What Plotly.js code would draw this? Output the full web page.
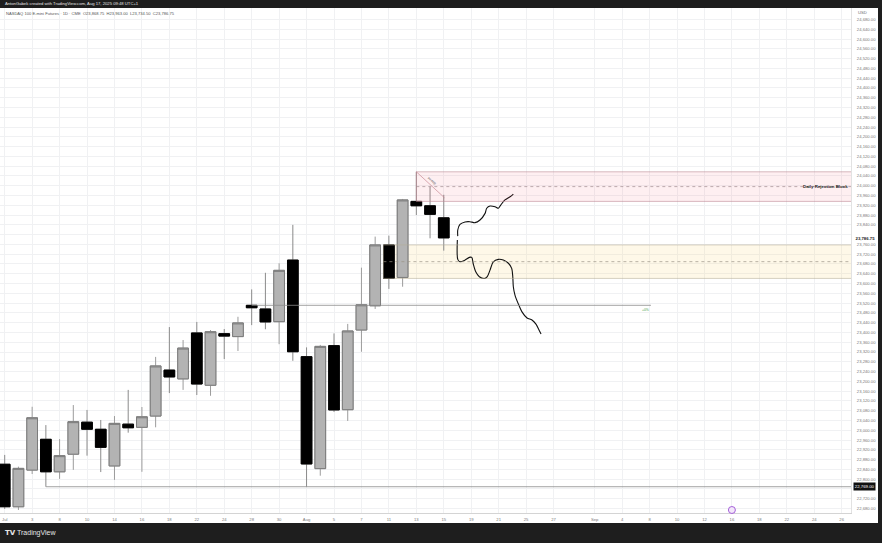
<!DOCTYPE html>
<html>
<head>
<meta charset="utf-8">
<script src="https://cdn.plot.ly/plotly-3.0.1.min.js"></script>
<style>
  html, body { margin: 0; padding: 0; background: #1e1e1e; overflow: hidden; }
  #chart { width: 882px; height: 543px; }
</style>
</head>
<body>
<div id="chart"></div>
<script>
// CME session calendar, Jul 1 – Sep 29 2025 (holidays skipped)
const calendar = [
  '2025-07-01','2025-07-02','2025-07-03','2025-07-07','2025-07-08','2025-07-09','2025-07-10','2025-07-11',
  '2025-07-14','2025-07-15','2025-07-16','2025-07-17','2025-07-18','2025-07-21','2025-07-22','2025-07-23',
  '2025-07-24','2025-07-25','2025-07-28','2025-07-29','2025-07-30','2025-07-31',
  '2025-08-01','2025-08-04','2025-08-05','2025-08-06','2025-08-07','2025-08-08','2025-08-11','2025-08-12',
  '2025-08-13','2025-08-14','2025-08-15','2025-08-18','2025-08-19','2025-08-20','2025-08-21','2025-08-22',
  '2025-08-25','2025-08-26','2025-08-27','2025-08-28','2025-08-29',
  '2025-09-02','2025-09-03','2025-09-04','2025-09-05','2025-09-08','2025-09-09','2025-09-10','2025-09-11',
  '2025-09-12','2025-09-15','2025-09-16','2025-09-17','2025-09-18','2025-09-19','2025-09-22','2025-09-23',
  '2025-09-24','2025-09-25','2025-09-26','2025-09-29'
];

// Daily bars, NASDAQ 100 E-mini Futures
const sessionDates = calendar.slice(0, 33);
const opens  = [22861, 22687, 22837, 22963, 22830, 22902, 23033, 23004, 22854, 23025, 23012, 23058, 23246, 23210, 23398, 23184, 23395, 23383, 23511, 23496, 23444, 23696, 23301, 22843, 23346, 23084, 23410, 23509, 23758, 23625, 23936, 23918, 23868.75];
const highs  = [22899, 22851, 23096, 23021, 22964, 23103, 23083, 23042, 23058, 23165, 23095, 23300, 23422, 23369, 23443, 23410, 23414, 23464, 23576, 23644, 23683, 23840, 23339, 23349, 23396, 23435, 23665, 23792, 23796, 23946, 24057, 23996, 23963];
const lows   = [22678, 22674, 22821, 22769, 22801, 22838, 22896, 22829, 22797, 22990, 22830, 23012, 23152, 23165, 23144, 23141, 23291, 23324, 23430, 23413, 23352, 23284, 22769, 22814, 23075, 23038, 23321, 23496, 23578, 23587, 23880, 23785, 23734.5];
const closes = [22687, 22844, 23051, 22830, 22896, 23035, 23004, 22930, 23028, 23010, 23055, 23263, 23218, 23336, 23189, 23403, 23385, 23439, 23501, 23443, 23654, 23321, 22862, 23343, 23083, 23406, 23513, 23758, 23621, 23942, 23918, 23883, 23786.75];

// Time-scale labels
const tickDates  = ['2025-07-01','2025-07-03','2025-07-08','2025-07-10','2025-07-14','2025-07-16','2025-07-18','2025-07-22','2025-07-24','2025-07-28','2025-07-30',
                    '2025-08-01','2025-08-05','2025-08-07','2025-08-11','2025-08-13','2025-08-15','2025-08-19','2025-08-21','2025-08-25','2025-08-27',
                    '2025-09-02','2025-09-04','2025-09-08','2025-09-10','2025-09-12','2025-09-16','2025-09-18','2025-09-22','2025-09-24','2025-09-26'];
const tickLabels = ['Jul','3','8','10','14','16','18','22','24','28','30',
                    'Aug','5','7','11','13','15','19','21','25','27',
                    'Sep','4','8','10','12','16','18','22','24','26'];

// Freehand projection paths (session index, price)
const upPathX   = [33.02, 33.02, 33.18, 33.55, 33.91, 34.28, 34.64, 35.01, 35.13, 35.37, 35.74, 35.98, 36.15, 36.46, 36.83, 37.07];
const upPathY   = [23794, 23819, 23842, 23852, 23853, 23849, 23860, 23887, 23908, 23917, 23914, 23908, 23921, 23942, 23955, 23966];
const downPathX = [32.99, 33.02, 33.18, 33.55, 33.86, 34.04, 34.15, 34.33, 34.59, 35.01, 35.17, 35.37, 35.61, 35.98, 36.34, 36.71, 36.95, 37.03, 37.07, 37.19, 37.41, 37.70, 38.07, 38.43, 38.72, 38.94, 39.09];
const downPathY = [23778, 23699, 23689, 23696, 23707, 23707, 23680, 23648, 23628, 23621, 23628, 23655, 23689, 23699, 23696, 23683, 23662, 23628, 23587, 23553, 23520, 23484, 23459, 23451, 23434, 23410, 23394];

// ---------------------------------------------------------------------------
const idx = d => calendar.indexOf(d);
const xs = sessionDates.map(idx);
const fmt = v => v.toLocaleString('en-US', {minimumFractionDigits: 2, maximumFractionDigits: 2});
const last = xs.length - 1;

const FONT = 'Liberation Sans, Arial, sans-serif';
const W = 882, H = 543;
const plotRight = 851, plotTop = 8, plotBottom = 513;
const plotW = plotRight, plotH = plotBottom - plotTop;
const py = y => (plotBottom - y) / plotH;   // page pixel row -> paper y
const px = x => x / plotW;                  // page pixel column -> paper x

const support = lows[3];

// price scale ticks every 40 points; labels hidden where a price tag covers them
const priceTicks = [];
for (let v = 22680; v <= 24680; v += 40) priceTicks.push(v);
const hiddenTicks = [23800, 22760];
const priceText = priceTicks.map(v => hiddenTicks.includes(v) ? '' : fmt(v));

const bodyHigh = opens.map((o, i) => Math.max(o, closes[i]));
const bodyLow  = opens.map((o, i) => Math.min(o, closes[i]));

const traces = [
  { // wicks
    type: 'candlestick', x: xs, open: opens, high: highs, low: lows, close: closes,
    increasing: {line: {color: '#9c9c9c', width: 1}, fillcolor: '#b3b3b3'},
    decreasing: {line: {color: '#8a8a8a', width: 1}, fillcolor: '#000000'},
    whiskerwidth: 0, hoverinfo: 'skip', showlegend: false
  },
  { // bodies
    type: 'candlestick', x: xs, open: opens, high: bodyHigh, low: bodyLow, close: closes,
    increasing: {line: {color: '#7b7b7b', width: 1}, fillcolor: '#b3b3b3'},
    decreasing: {line: {color: '#000000', width: 1}, fillcolor: '#000000'},
    whiskerwidth: 0, hoverinfo: 'skip', showlegend: false
  },
  {
    type: 'scatter', mode: 'lines', x: upPathX, y: upPathY,
    line: {color: '#111111', width: 1.1, shape: 'spline', smoothing: 0.8},
    hoverinfo: 'skip', showlegend: false
  },
  {
    type: 'scatter', mode: 'lines', x: downPathX, y: downPathY,
    line: {color: '#111111', width: 1.1, shape: 'spline', smoothing: 0.8},
    hoverinfo: 'skip', showlegend: false
  }
];

// zones
const rejTop = highs[30], rejBot = opens[30];
const rejMid = (rejTop + rejBot) / 2;
const demTop = opens[28], demBot = closes[28];
const demMid = (demTop + demBot) / 2;
const ray = opens[18];

const shapes = [
  // white chart panel
  {type: 'rect', xref: 'paper', yref: 'paper', x0: 0, x1: px(878), y0: py(523), y1: py(plotTop),
   fillcolor: '#ffffff', line: {width: 0}, layer: 'below'},
  // daily rejection block
  {type: 'rect', xref: 'x', yref: 'y', x0: 30, x1: 70, y0: rejBot, y1: rejTop,
   fillcolor: 'rgba(242,54,80,0.08)', line: {color: 'rgba(190,140,150,0.75)', width: 0.8}, layer: 'above'},
  {type: 'line', xref: 'x', yref: 'y', x0: 30, x1: 70, y0: rejMid, y1: rejMid,
   line: {color: '#a08c90', width: 0.7, dash: 'dot'}, layer: 'above'},
  {type: 'line', xref: 'x', yref: 'y', x0: 30, x1: 32.05, y0: rejTop, y1: highs[32] - 12,
   line: {color: 'rgba(200,140,150,0.9)', width: 0.8}, layer: 'above'},
  // demand zone (fill beneath the candles)
  {type: 'rect', xref: 'x', yref: 'y', x0: 27.6, x1: 70, y0: demBot, y1: demTop,
   fillcolor: 'rgba(248,210,110,0.16)', line: {width: 0}, layer: 'between'},
  {type: 'rect', xref: 'x', yref: 'y', x0: 27.6, x1: 70, y0: demBot, y1: demTop,
   fillcolor: 'rgba(0,0,0,0)', line: {color: 'rgba(180,172,150,0.7)', width: 0.8}, layer: 'above'},
  {type: 'line', xref: 'x', yref: 'y', x0: 27.6, x1: 70, y0: demMid, y1: demMid,
   line: {color: '#9a9385', width: 0.7, dash: 'dot'}, layer: 'above'},
  // horizontal levels
  {type: 'line', xref: 'x', yref: 'y', x0: 18, x1: 47.1, y0: ray, y1: ray,
   line: {color: '#8c8c8c', width: 0.8}, layer: 'above'},
  {type: 'line', xref: 'x', yref: 'y', x0: 3, x1: 70, y0: support, y1: support,
   line: {color: '#8c8c8c', width: 0.8}, layer: 'above'},
  // economic event marker
  {type: 'circle', xref: 'x', yref: 'paper', xsizemode: 'pixel', ysizemode: 'pixel',
   xanchor: idx('2025-09-16'), yanchor: 0, x0: -3.5, x1: 3.5, y0: -0.5, y1: 6.5,
   fillcolor: 'rgba(243,232,250,1)', line: {color: '#9c4fd6', width: 0.9}, layer: 'above'}
];

const annotations = [
  {xref: 'paper', yref: 'paper', x: px(3), y: py(3.6), xanchor: 'left', yanchor: 'middle', showarrow: false,
   text: 'AntonGabek created with TradingView.com, Aug 17, 2025 09:48 UTC+1',
   font: {family: FONT, size: 4.2, color: '#e4e4e4'}},
  {xref: 'paper', yref: 'paper', x: px(4), y: py(13), xanchor: 'left', yanchor: 'middle', showarrow: false,
   text: 'NASDAQ 100 E-mini Futures · 1D · CME  O' + fmt(opens[last]) + '  H' + fmt(highs[last]) +
         '  L' + fmt(lows[last]) + '  C' + fmt(closes[last]),
   font: {family: FONT, size: 4.1, color: '#555555'}},
  {xref: 'paper', yref: 'paper', x: px(856), y: py(12.5), xanchor: 'left', yanchor: 'middle', showarrow: false,
   text: 'USD', font: {family: FONT, size: 4.2, color: '#6e6e6e'}},
  {xref: 'paper', yref: 'y', x: px(854), y: closes[last], xanchor: 'left', yanchor: 'middle', showarrow: false,
   text: '<b>' + fmt(closes[last]) + '</b>', font: {family: FONT, size: 4.3, color: '#222222'},
   bgcolor: '#ffffff', borderpad: 0.5},
  {xref: 'paper', yref: 'y', x: px(853), y: support, xanchor: 'left', yanchor: 'middle', showarrow: false,
   text: fmt(support), font: {family: FONT, size: 4.3, color: '#ffffff'},
   bgcolor: '#111111', borderpad: 0.8},
  {xref: 'paper', yref: 'y', x: 1, y: rejMid, xanchor: 'right', yanchor: 'middle', showarrow: false, xshift: -1,
   text: '<b>Daily Rejection Block</b>', font: {family: FONT, size: 4.4, color: '#222222'}},
  {xref: 'x', yref: 'y', x: 31.15, y: 24020, xanchor: 'center', yanchor: 'middle', showarrow: false,
   textangle: 43, text: 'sweep', font: {family: FONT, size: 3.4, color: '#555555'}},
  {xref: 'x', yref: 'y', x: 47.1, y: ray, xanchor: 'right', yanchor: 'top', showarrow: false, yshift: -0.5,
   text: '+0%', font: {family: FONT, size: 3.4, color: '#43a047'}},
  {xref: 'paper', yref: 'paper', x: px(3), y: py(533), xanchor: 'left', yanchor: 'middle', showarrow: false,
   text: '<b>TV</b>', font: {family: 'DejaVu Sans, sans-serif', size: 7, color: '#e6e6e6'}},
  {xref: 'paper', yref: 'paper', x: px(15), y: py(533), xanchor: 'left', yanchor: 'middle', showarrow: false,
   text: 'TradingView', font: {family: FONT, size: 7, color: '#e6e6e6'}}
];

const layout = {
  width: W, height: H,
  margin: {l: 0, r: W - plotRight, t: plotTop, b: H - plotBottom, pad: 0},
  paper_bgcolor: '#1e1e1e', plot_bgcolor: '#ffffff',
  showlegend: false,
  boxgap: 0.22, boxgroupgap: 0, boxmode: 'overlay',
  xaxis: {
    type: 'linear', range: [-0.343, 61.68],
    tickmode: 'array', tickvals: tickDates.map(idx), ticktext: tickLabels,
    showgrid: true, gridcolor: '#f0f1f3', gridwidth: 1, zeroline: false,
    ticks: '', ticklabelstandoff: 2,
    tickfont: {family: FONT, size: 4.2, color: '#7a7a7a'},
    showline: true, linecolor: '#d4d4d4', linewidth: 1,
    rangeslider: {visible: false}, fixedrange: true
  },
  yaxis: {
    side: 'right', range: [22661.5, 24727],
    tickmode: 'array', tickvals: priceTicks, ticktext: priceText,
    showgrid: true, gridcolor: '#f0f1f3', gridwidth: 1, zeroline: false,
    ticks: '', ticklabelstandoff: 4,
    tickfont: {family: FONT, size: 4.2, color: '#7a7a7a'},
    showline: true, linecolor: '#e2e2e2', linewidth: 1, fixedrange: true
  },
  shapes: shapes,
  annotations: annotations
};

Plotly.newPlot('chart', traces, layout, {staticPlot: true, displayModeBar: false});
</script>
</body>
</html>
